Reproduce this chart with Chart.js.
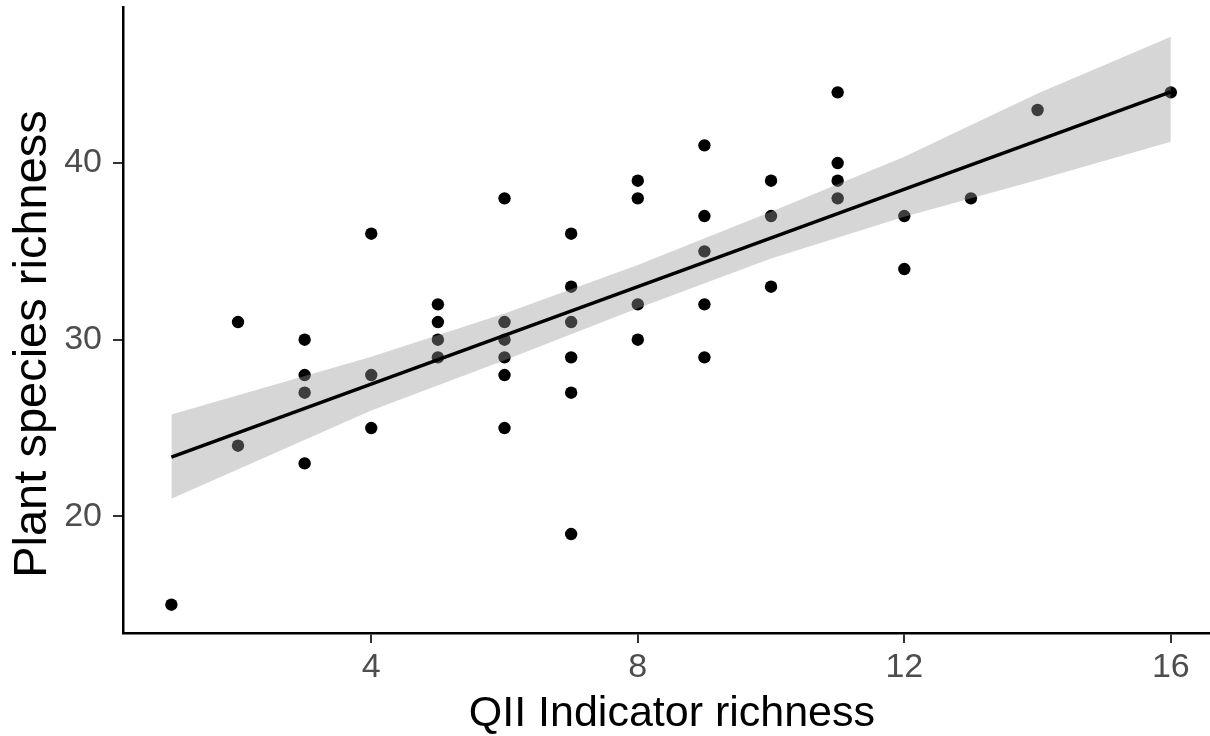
<!DOCTYPE html>
<html>
<head>
<meta charset="utf-8">
<title>Plant species richness vs QII Indicator richness</title>
<script src="https://cdn.jsdelivr.net/npm/chart.js@4.4.1/dist/chart.umd.min.js"></script>
<style>
  html, body { margin: 0; padding: 0; background: #ffffff; overflow: hidden; }
  #wrap { width: 1210px; height: 736px; overflow: hidden; }
  /* the panel runs a little past the right edge of the view */
  #chart { display: block; }
</style>
</head>
<body>
<div id="wrap"><canvas id="chart" width="1227" height="736"></canvas></div>
<script>
// Observed sites: QII indicator richness (x) and plant species richness (y)
const siteIndicator = [
  1,
  2, 2,
  3, 3, 3, 3,
  4, 4, 4,
  5, 5, 5, 5,
  6, 6, 6, 6, 6, 6,
  7, 7, 7, 7, 7, 7,
  8, 8, 8, 8,
  9, 9, 9, 9, 9,
  10, 10, 10,
  11, 11, 11, 11,
  12, 12,
  13,
  14,
  16
];
const siteSpecies = [
  15,
  31, 24,
  30, 28, 27, 23,
  36, 28, 25,
  32, 31, 30, 29,
  38, 31, 30, 29, 28, 25,
  36, 33, 31, 29, 27, 19,
  39, 38, 32, 30,
  41, 37, 35, 32, 29,
  39, 37, 33,
  44, 40, 39, 38,
  37, 34,
  38,
  43,
  44
];

// Linear fit and its 95% confidence band
const fitX = [1, 16];
const fitY = [23.36, 44.03];
const bandX = [1, 4, 6, 8, 10, 12, 14, 16];
const bandLow = [21.0, 26.0, 28.84, 31.78, 34.6, 36.96, 39.04, 41.2];
const bandHigh = [25.76, 29.03, 31.48, 34.23, 37.24, 40.36, 43.94, 47.15];

// Axis ticks and titles
const xTicks = [4, 8, 12, 16];
const yTicks = [20, 30, 40];
const xTitle = 'QII Indicator richness';
const yTitle = 'Plant species richness';

const toXY = (xs, ys) => xs.map((x, i) => ({ x: x, y: ys[i] }));

const FONT = "'Liberation Sans', Arial, Helvetica, sans-serif";

// Vertical axis title
const yTitlePlugin = {
  id: 'yTitle',
  afterDraw(chart) {
    const ctx = chart.ctx;
    const area = chart.chartArea;
    ctx.save();
    ctx.translate(33, (area.top + area.bottom) / 2 + 24);
    ctx.rotate(-Math.PI / 2);
    ctx.font = '47px ' + FONT;
    ctx.fillStyle = '#000000';
    ctx.textAlign = 'center';
    ctx.textBaseline = 'middle';
    ctx.fillText(yTitle, 0, 0);
    ctx.restore();
  }
};

new Chart(document.getElementById('chart'), {
  type: 'scatter',
  data: {
    datasets: [
      {
        label: 'sites',
        data: toXY(siteIndicator, siteSpecies),
        pointRadius: 6.2,
        pointBorderWidth: 0,
        pointBackgroundColor: '#000000',
        showLine: false,
        order: 3
      },
      {
        label: 'band low',
        data: toXY(bandX, bandLow),
        showLine: true,
        borderWidth: 0,
        borderColor: 'rgba(0,0,0,0)',
        pointRadius: 0,
        fill: false,
        order: 2
      },
      {
        label: 'band high',
        data: toXY(bandX, bandHigh),
        showLine: true,
        borderWidth: 0,
        borderColor: 'rgba(0,0,0,0)',
        pointRadius: 0,
        fill: '-1',
        backgroundColor: 'rgba(153,153,153,0.4)',
        order: 2
      },
      {
        label: 'fit',
        data: toXY(fitX, fitY),
        showLine: true,
        borderColor: '#000000',
        borderWidth: 3.5,
        pointRadius: 0,
        fill: false,
        order: 1
      }
    ]
  },
  options: {
    responsive: false,
    animation: false,
    devicePixelRatio: 1,
    layout: { padding: { top: 7, right: 0, bottom: 0, left: 0 } },
    plugins: {
      legend: { display: false },
      tooltip: { enabled: false },
      filler: { propagate: false }
    },
    scales: {
      x: {
        type: 'linear',
        min: 0.274,
        max: 16.75,
        afterBuildTicks: (s) => { s.ticks = xTicks.map(v => ({ value: v })); },
        afterFit: (s) => { s.height = 103; s.paddingLeft = 0; s.paddingRight = 0; },
        border: { display: true, color: '#000000', width: 2.5 },
        grid: { display: true, drawOnChartArea: false, drawTicks: true, tickLength: 10, color: '#333333', lineWidth: 2 },
        ticks: { color: '#4d4d4d', font: { family: FONT, size: 34 }, padding: 4, maxRotation: 0 },
        title: {
          display: true,
          text: xTitle,
          color: '#000000',
          font: { family: FONT, size: 43, lineHeight: 1 },
          padding: { top: 0, bottom: 0 }
        }
      },
      y: {
        type: 'linear',
        min: 13.4,
        max: 48.83,
        afterBuildTicks: (s) => { s.ticks = yTicks.map(v => ({ value: v })); },
        afterFit: (s) => { s.width = 123; s.paddingTop = 0; s.paddingBottom = 0; },
        border: { display: true, color: '#000000', width: 2.5 },
        grid: { display: true, drawOnChartArea: false, drawTicks: true, tickLength: 10, color: '#333333', lineWidth: 2 },
        ticks: { color: '#4d4d4d', font: { family: FONT, size: 34 }, padding: 11 },
        title: { display: false }
      }
    }
  },
  plugins: [yTitlePlugin]
});
</script>
</body>
</html>
